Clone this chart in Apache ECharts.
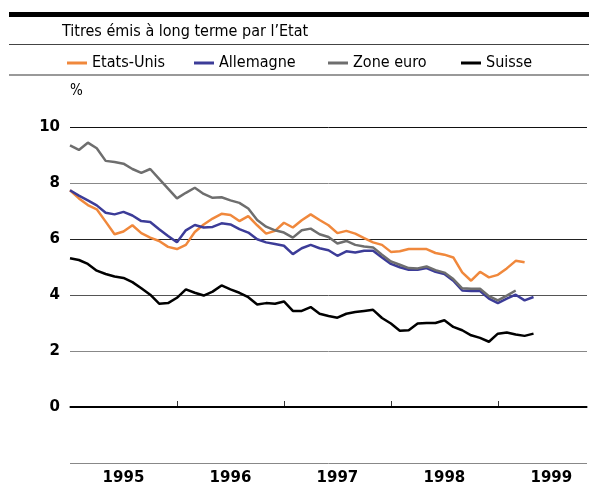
<!DOCTYPE html>
<html>
<head>
<meta charset="utf-8">
<script src="https://cdn.jsdelivr.net/npm/echarts@6/dist/echarts.min.js"></script>
<style>
  html, body { margin: 0; padding: 0; background: #fff; }
  #chart { width: 589px; height: 486px; }
</style>
</head>
<body>
<div id="chart"></div>
<script>
// months Jan 1995 .. Nov 1999
const months = []
for (let y = 1995; y <= 1999; y++) {
  for (let m = 1; m <= 12; m++) {
    if (y === 1999 && m > 11) break
    months.push(y + '-' + (m < 10 ? '0' + m : m))
  }
}

const etatsUnis = [7.74, 7.45, 7.21, 7.06, 6.62, 6.17, 6.27, 6.49, 6.21, 6.05, 5.93, 5.72,
  5.64, 5.79, 6.25, 6.52, 6.73, 6.90, 6.86, 6.64, 6.82, 6.49, 6.19, 6.29,
  6.58, 6.41, 6.67, 6.88, 6.68, 6.49, 6.21, 6.29, 6.19, 6.03, 5.88, 5.79,
  5.54, 5.56, 5.64, 5.64, 5.64, 5.50, 5.44, 5.34, 4.81, 4.51, 4.83, 4.63,
  4.72, 4.95, 5.22, 5.17]
const allemagne = [7.74, 7.55, 7.38, 7.20, 6.94, 6.88, 6.97, 6.84, 6.64, 6.61, 6.35, 6.11,
  5.88, 6.31, 6.50, 6.41, 6.43, 6.56, 6.52, 6.35, 6.23, 5.99, 5.88, 5.82,
  5.76, 5.46, 5.67, 5.79, 5.67, 5.60, 5.40, 5.56, 5.52, 5.58, 5.58, 5.34,
  5.11, 4.99, 4.90, 4.90, 4.96, 4.83, 4.75, 4.51, 4.16, 4.14, 4.14, 3.87,
  3.71, 3.87, 4.01, 3.81, 3.93]
const zoneEuro = [9.34, 9.18, 9.44, 9.24, 8.79, 8.75, 8.69, 8.50, 8.36, 8.50, 8.15, 7.80,
  7.45, 7.65, 7.83, 7.61, 7.47, 7.49, 7.38, 7.29, 7.09, 6.68, 6.44, 6.31,
  6.23, 6.05, 6.31, 6.37, 6.17, 6.07, 5.84, 5.93, 5.79, 5.73, 5.70, 5.44,
  5.20, 5.08, 4.96, 4.95, 5.02, 4.89, 4.80, 4.57, 4.24, 4.22, 4.22, 3.96,
  3.81, 3.98, 4.16]
const suisse = [5.31, 5.25, 5.11, 4.87, 4.75, 4.66, 4.61, 4.46, 4.24, 4.01, 3.69, 3.71,
  3.90, 4.20, 4.08, 3.98, 4.12, 4.34, 4.20, 4.08, 3.92, 3.66, 3.71, 3.69,
  3.77, 3.43, 3.43, 3.57, 3.33, 3.25, 3.19, 3.33, 3.39, 3.43, 3.47, 3.18,
  2.98, 2.72, 2.74, 2.98, 3.00, 3.00, 3.10, 2.86, 2.74, 2.56, 2.47, 2.33,
  2.62, 2.66, 2.59, 2.54, 2.62]

const seriesNames = ['Etats-Unis', 'Allemagne', 'Zone euro', 'Suisse']
const colors = ['#f0883c', '#3c3c98', '#6e6e6e', '#000000']
const legendLeft = [62, 189, 323, 456]
const font = '"DejaVu Sans Condensed", "Liberation Sans Narrow", "DejaVu Sans", sans-serif'

const chart = echarts.init(document.getElementById('chart'))

const series = [etatsUnis, allemagne, zoneEuro, suisse].map(function(d, i) {
  const s = {
    name: seriesNames[i],
    type: 'line',
    data: d,
    symbol: 'none',
    lineStyle: { color: colors[i], width: 2.5 },
    itemStyle: { color: colors[i] },
    animation: false
  }
  if (i === 3) {
    s.markLine = {
      silent: true,
      symbol: 'none',
      label: { show: false },
      lineStyle: { color: '#000', width: 2, type: 'solid' },
      data: [{ yAxis: 0 }]
    }
  }
  return s
})

const legends = seriesNames.map(function(n, i) {
  return {
    data: [n],
    left: legendLeft[i],
    top: 50,
    icon: 'rect',
    itemWidth: 20,
    itemHeight: 3,
    textStyle: { color: '#000', fontSize: 16, fontFamily: font }
  }
})

chart.setOption({
  animation: false,
  title: {
    text: 'Titres émis à long terme par l’Etat',
    left: 62,
    top: 24,
    padding: 0,
    textStyle: { color: '#000', fontSize: 16, fontWeight: 'normal', fontFamily: font }
  },
  legend: legends,
  graphic: [
    { type: 'rect', shape: { x: 9, y: 12, width: 580, height: 5 }, style: { fill: '#000' } },
    { type: 'line', shape: { x1: 9, y1: 44.5, x2: 589, y2: 44.5 }, style: { stroke: '#444', lineWidth: 1 } },
    { type: 'line', shape: { x1: 9, y1: 75, x2: 589, y2: 75 }, style: { stroke: '#777', lineWidth: 1.5 } }
  ],
  grid: { left: 70, right: 2, top: 127, bottom: 20 },
  xAxis: {
    type: 'category',
    data: months,
    boundaryGap: false,
    axisLine: { lineStyle: { color: '#888', width: 2 } },
    axisTick: {
      inside: true,
      length: 6,
      interval: function(i) { return i > 0 && i % 12 === 0 },
      lineStyle: { color: '#333', width: 1 }
    },
    axisLabel: {
      interval: function(i) { return i % 12 === 6 },
      formatter: function(v) { return v.slice(0, 4) },
      margin: 8,
      color: '#000',
      fontSize: 15,
      fontWeight: 'bold',
      fontFamily: '"DejaVu Sans", sans-serif'
    },
    splitLine: { show: false }
  },
  yAxis: {
    type: 'value',
    min: -2,
    max: 10,
    interval: 2,
    name: '%',
    nameLocation: 'end',
    nameGap: 28,
    nameTextStyle: { align: 'left', color: '#000', fontSize: 15, fontFamily: font },
    axisLine: { show: false },
    axisTick: { show: false },
    axisLabel: {
      showMinLabel: false,
      margin: 10,
      color: '#000',
      fontSize: 15,
      fontWeight: 'bold',
      fontFamily: '"DejaVu Sans", sans-serif'
    },
    splitLine: {
      lineStyle: {
        color: ['#888', '#000', '#888', '#555', '#222', '#888', '#111'],
        width: 1
      }
    }
  },
  series: series
})
</script>
</body>
</html>
